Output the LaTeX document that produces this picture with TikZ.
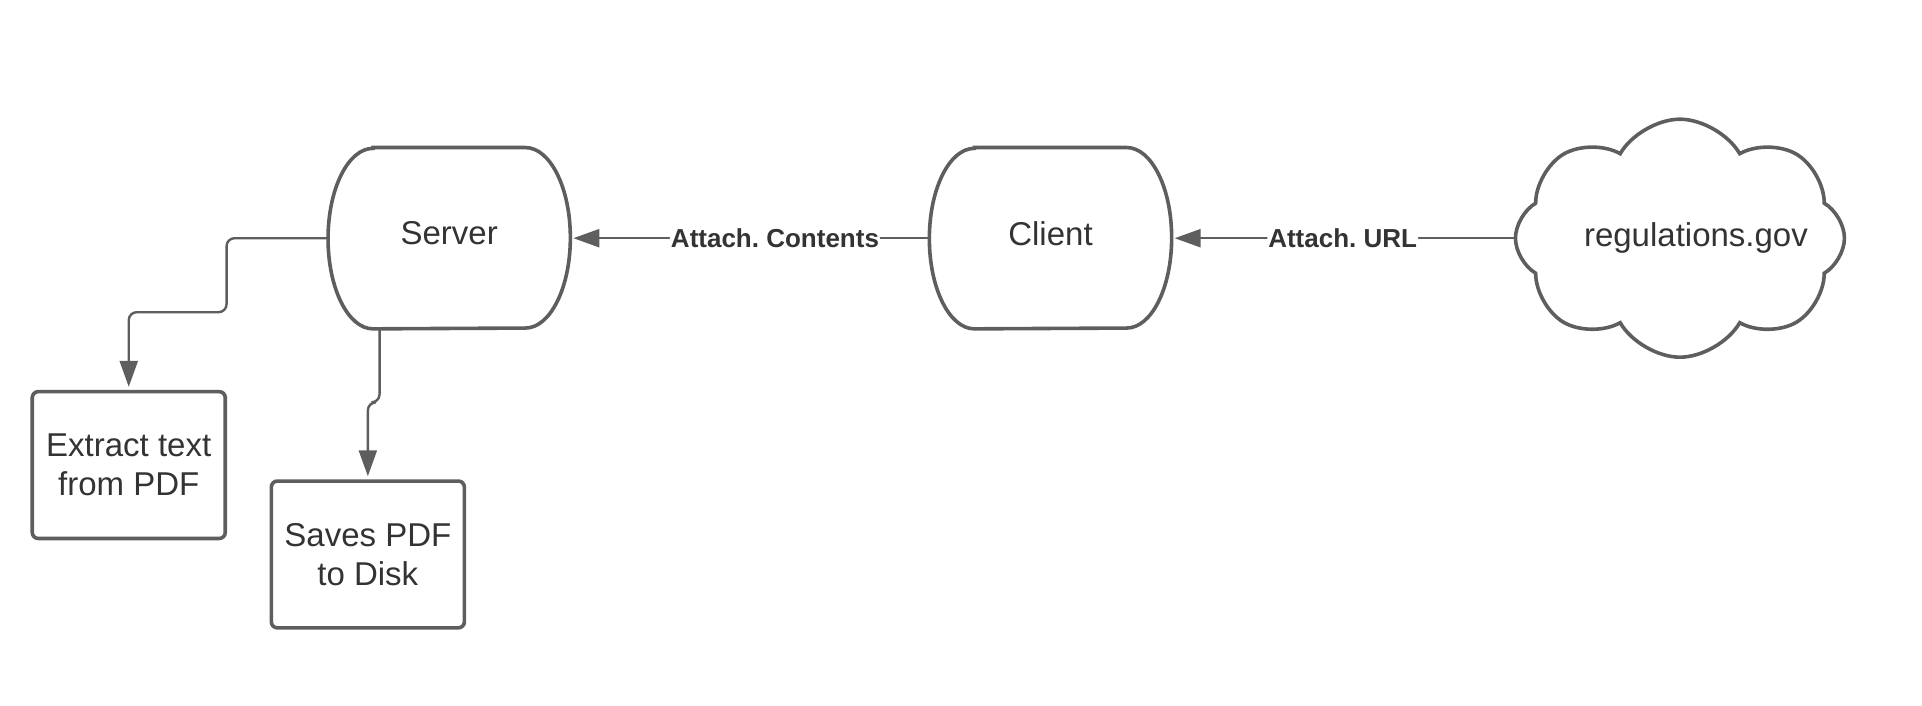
\documentclass[tikz,border=0pt]{standalone}
\usepackage{fontspec}
\setmainfont{Liberation Sans}
\usepackage{xcolor}
\usepackage{tikz}
\usetikzlibrary{shapes.symbols, arrows.meta, positioning, calc}
\frenchspacing
\definecolor{linegray}{HTML}{5E5E5E}
\definecolor{textgray}{HTML}{333333}
\tikzstyle{drum} = [rectangle, minimum width=120.75pt, minimum height=90.25pt, text depth=5pt, text centered, text=textgray, font=\fontsize{16.5}{19.5}\selectfont]
\tikzstyle{task} = [rectangle, rounded corners=3pt, minimum width=96.5pt, minimum height=73.4pt, align=center, draw=linegray, line width=1.8pt, text=textgray, font=\fontsize{16.5}{19.5}\selectfont]
\tikzstyle{web} = [cloud, cloud puffs=8, cloud puff arc=120, cloud ignores aspect, minimum width=164.5pt, minimum height=119pt, inner sep=0pt, draw=linegray, line width=1.8pt]
\tikzstyle{arrow} = [draw=linegray, line width=1.2pt, rounded corners=4pt, shorten >=1.5pt, -{Triangle[length=13pt, width=9pt]}]
\tikzstyle{tag} = [fill=white, inner xsep=0.5pt, text=textgray, font=\fontsize{13}{15}\selectfont\bfseries]
\newcommand{\drumoutline}[1]{%
  \draw[draw=linegray, line width=1.8pt] ($(#1.north west)+(22.5pt,0)$) -- ($(#1.north east)+(-22.5pt,0)$)
    arc[start angle=90, end angle=-90, x radius=22.5pt, y radius=45.125pt]
    -- ($(#1.south west)+(22.5pt,0)$)
    arc[start angle=270, end angle=90, x radius=22.5pt, y radius=45.125pt] -- cycle;}

\begin{document}
\begin{tikzpicture}[node distance=30pt]
    \useasboundingbox (0,0) rectangle (961pt,-353pt);
    \node (server) [drum] at (224.6pt,-119.1pt) {Server};
    \node (client) [drum, right=179.5pt of server] {Client};
    \node (gov) [web, right=171pt of client, label={[text=textgray, font=\fontsize{16.5}{19.5}\selectfont, xshift=8pt]center:regulations.gov}] {};
    \node (extract) [task, below left=30.5pt and 50.5pt of server.south west] {Extract text\\from PDF};
    \node (saves) [task, below right=44.7pt and 21.25pt of extract.north east] {Saves PDF\\to Disk};
    \drumoutline{server}
    \drumoutline{client}

    \draw [arrow] (gov) -- node[tag] {Attach. URL} (client);
    \draw [arrow] (client) -- node[tag, pos=0.43] {Attach. Contents} (server);
    \draw [arrow] (server.west) -- ++(-50.75pt,0) -- ++(0,-37pt) -| (extract.north);
    \draw [arrow] ($(server.south west)+(25.75pt,0)$) -- ++(0,-36.75pt) -| (saves.north);
\end{tikzpicture}
\end{document}
